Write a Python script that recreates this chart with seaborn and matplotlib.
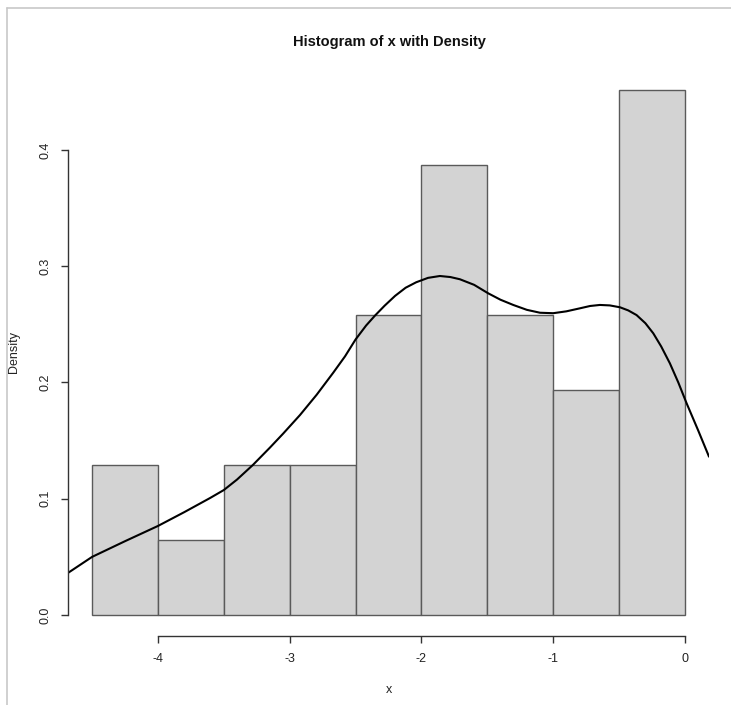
import numpy as np
import pandas as pd
import seaborn as sns
import matplotlib
matplotlib.use("Agg")
import matplotlib.pyplot as plt
from matplotlib.lines import Line2D

# Histogram bins (width 0.5) and their density heights
bin_edges = [-4.5, -4.0, -3.5, -3.0, -2.5, -2.0, -1.5, -1.0, -0.5, 0.0]
bin_density = [0.1290, 0.0645, 0.1290, 0.1290, 0.2581, 0.3871, 0.2581, 0.1935, 0.4516]

# Kernel density estimate, sampled along x
dens_x = [-4.683, -4.50, -4.25, -4.00, -3.80, -3.605, -3.50, -3.40, -3.28, -3.15,
          -3.05, -2.922, -2.795, -2.669, -2.58, -2.50, -2.42, -2.353, -2.28, -2.20,
          -2.12, -2.04, -1.95, -1.86, -1.78, -1.708, -1.60, -1.493, -1.40, -1.303,
          -1.20, -1.10, -1.00, -0.90, -0.797, -0.72, -0.645, -0.57, -0.493, -0.43,
          -0.367, -0.30, -0.24, -0.18, -0.114, -0.05, 0.013, 0.10, 0.183]
dens_y = [0.0362, 0.0500, 0.0635, 0.0766, 0.0885, 0.1006, 0.1075, 0.1165, 0.1290, 0.1440,
          0.1560, 0.1720, 0.1895, 0.2085, 0.2225, 0.2370, 0.2490, 0.2575, 0.2660, 0.2745,
          0.2815, 0.2862, 0.2900, 0.2916, 0.2907, 0.2888, 0.2840, 0.2767, 0.2712, 0.2667,
          0.2625, 0.2600, 0.2596, 0.2612, 0.2638, 0.2658, 0.2667, 0.2663, 0.2647, 0.2620,
          0.2580, 0.2510, 0.2423, 0.2310, 0.2165, 0.2000, 0.1821, 0.1590, 0.1362]

x_ticks = [-4, -3, -2, -1, 0]
y_ticks = [0.0, 0.1, 0.2, 0.3, 0.4]

sns.set_style("white")
plt.rcParams['font.family'] = ['Liberation Sans', 'DejaVu Sans']

fig = plt.figure(figsize=(7.31, 7.05), dpi=100)
ax = fig.add_axes([68 / 731, (705 - 636) / 705, 641 / 731, 567.4 / 705])

centers = [(a + b) / 2 for a, b in zip(bin_edges[:-1], bin_edges[1:])]
hist_df = pd.DataFrame({"x": centers, "w": bin_density})
sns.histplot(data=hist_df, x="x", weights="w", bins=bin_edges, stat="count",
             color="#D3D3D3", alpha=1.0, edgecolor="#5a5a5a", linewidth=1.0, ax=ax)

dens_df = pd.DataFrame({"x": dens_x, "y": dens_y})
line_ax = sns.lineplot(data=dens_df, x="x", y="y", color="black", linewidth=1.5,
                       ax=ax, estimator=None, sort=True)
for ln in line_ax.lines:
    ln.set_solid_joinstyle("round")

ax.set_xlim(-4.683, 0.183)
ax.set_ylim(-0.01806, 0.470)

for side in ["top", "right"]:
    ax.spines[side].set_visible(False)
for side in ["left", "bottom"]:
    ax.spines[side].set_color("#333333")
    ax.spines[side].set_linewidth(1.0)
ax.spines["left"].set_bounds(0.0, 0.4)
ax.spines["bottom"].set_bounds(-4, 0)

ax.set_xticks(x_ticks)
ax.set_xticklabels([str(t) for t in x_ticks])
ax.set_yticks(y_ticks)
ax.set_yticklabels([f"{t:.1f}" for t in y_ticks], rotation=90, va="center")
ax.tick_params(axis="both", which="major", direction="out", length=5, width=1.0,
               color="#333333", labelsize=9, labelcolor="#222222",
               bottom=True, left=True)
ax.tick_params(axis="x", pad=7)
ax.tick_params(axis="y", pad=7)

ax.set_xlabel("x", fontsize=9, color="#222222", labelpad=14)
ax.set_ylabel("Density", fontsize=9, color="#222222", labelpad=14)
fig.text(389 / 731, 1 - 42 / 705, "Histogram of x with Density", ha="center",
         va="center", fontsize=10.5, fontweight="bold", color="#111111")

# light frame lines along the top and left edges
fig.add_artist(Line2D([7 / 731, 1], [1 - 7.5 / 705, 1 - 7.5 / 705],
                      transform=fig.transFigure, color="#c8c8c8", linewidth=1.2))
fig.add_artist(Line2D([7 / 731, 7 / 731], [0, 1 - 7.5 / 705],
                      transform=fig.transFigure, color="#c8c8c8", linewidth=1.2))

fig.savefig("out.png", dpi=100)
